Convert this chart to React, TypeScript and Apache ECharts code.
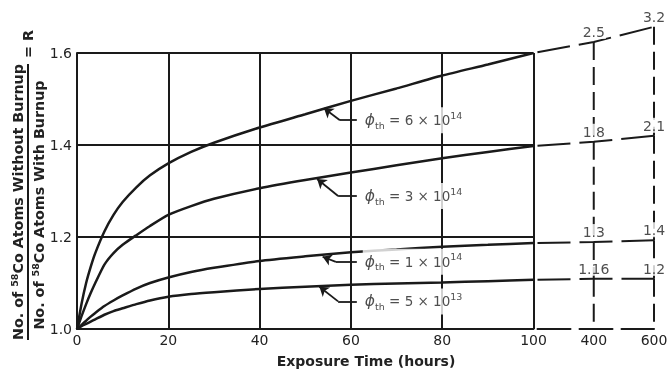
import React, { useEffect, useRef } from 'react';
import * as echarts from 'echarts';

// ---- data ----
const hours = [0, 1, 2, 3, 4, 6, 8, 10, 13, 16, 20, 25, 30, 40, 50, 60, 70, 80, 90, 100];
const r6e14 = [1.0, 1.055, 1.1, 1.135, 1.165, 1.212, 1.248, 1.276, 1.308, 1.334, 1.36, 1.385, 1.405, 1.438, 1.467, 1.496, 1.523, 1.551, 1.575, 1.6];
const r3e14 = [1.0, 1.028, 1.054, 1.078, 1.1, 1.14, 1.165, 1.183, 1.204, 1.224, 1.248, 1.267, 1.283, 1.306, 1.324, 1.34, 1.356, 1.371, 1.385, 1.398];
const r1e14 = [1.0, 1.009, 1.018, 1.027, 1.035, 1.05, 1.062, 1.073, 1.088, 1.1, 1.112, 1.124, 1.133, 1.148, 1.158, 1.167, 1.173, 1.179, 1.183, 1.187];
const r5e13 = [1.0, 1.006, 1.011, 1.016, 1.021, 1.031, 1.039, 1.045, 1.054, 1.062, 1.07, 1.076, 1.08, 1.087, 1.092, 1.096, 1.099, 1.101, 1.104, 1.107];
const fluxCoef = ['6', '3', '1', '5'];
const fluxExp = ['14', '14', '14', '13'];
const extCategories = ['100', '400', '600'];
const rAt400 = ['2.5', '1.8', '1.3', '1.16'];
const rAt600 = ['3.2', '2.1', '1.4', '1.2'];
// schematic heights (plotted R units) at which the off-scale 400 h / 600 h values are drawn
const plotAt400 = [1.624, 1.407, 1.189, 1.109];
const plotAt600 = [1.657, 1.42, 1.193, 1.109];
// annotation anchors (data units: hours, R)
const annoY = [1.454, 1.289, 1.146, 1.06];
const annoLineEndX = [61.3, 61.3, 61.3, 61.3];
const annoElbowX = [57.6, 57.2, 56.7, 57.2];
const annoTipX = [54.1, 52.6, 53.8, 53.1];
const annoTipY = [1.48, 1.326, 1.157, 1.092];
const annoTextX = [62.6, 62.6, 62.6, 62.6];

const FONT = 'DejaVu Sans';
const INK = '#1a1a1a';
const TXT = '#222';

export default function App() {
  const ref = useRef<HTMLDivElement>(null);
  useEffect(() => {
    if (!ref.current) return;
    const chart = echarts.init(ref.current, undefined, { renderer: 'svg' });
    const curves = [r6e14, r3e14, r1e14, r5e13];

    const curveSeries = curves.map((arr) => ({
      type: 'line',
      xAxisIndex: 0,
      yAxisIndex: 0,
      data: hours.map((h, j) => [h, arr[j]]),
      symbol: 'none',
      showSymbol: false,
      smooth: 0.2,
      lineStyle: { color: INK, width: 2.5 },
      z: 3,
      silent: true,
    }));

    const extSeries = curves.map((arr, i) => ({
      type: 'line',
      xAxisIndex: 1,
      yAxisIndex: 1,
      data: [
        [0, arr[arr.length - 1]],
        [1, plotAt400[i]],
        [2, plotAt600[i]],
      ],
      symbol: 'none',
      clip: false,
      lineStyle: { color: INK, width: 2, type: [33, 9], dashOffset: 38 },
      z: 3,
      silent: true,
    }));

    const vertSeries: any[] = [];
    [1, 2].forEach((ci) => {
      const lv = (ci === 1 ? plotAt400 : plotAt600).concat([1.0]);
      for (let k = 0; k < lv.length - 1; k++) {
        vertSeries.push({
          type: 'line',
          xAxisIndex: 1,
          yAxisIndex: 1,
          data: [
            [ci, lv[k]],
            [ci, lv[k + 1]],
          ],
          symbol: 'none',
          clip: false,
          lineStyle: { color: INK, width: 2, type: [18, 7] },
          z: 3,
          silent: true,
        });
      }
    });

    const rightLabels = {
      type: 'scatter',
      xAxisIndex: 1,
      yAxisIndex: 1,
      symbolSize: 0,
      clip: false,
      silent: true,
      z: 8,
      data: plotAt400
        .map((y, i) => ({ value: [1, y], name: rAt400[i] }))
        .concat(plotAt600.map((y, i) => ({ value: [2, y], name: rAt600[i] }))),
      label: {
        show: true,
        position: 'top',
        distance: 3,
        formatter: (p: any) => p.name,
        fontFamily: FONT,
        fontSize: 14,
        color: TXT,
        backgroundColor: '#fff',
        padding: [1, 1, 0, 1],
      },
    };

    const annoFlat = {
      type: 'lines',
      coordinateSystem: 'cartesian2d',
      xAxisIndex: 0,
      yAxisIndex: 0,
      symbol: 'none',
      lineStyle: { color: INK, width: 1.8, opacity: 1 },
      z: 6,
      silent: true,
      data: annoY.map((y, i) => ({ coords: [[annoLineEndX[i], y], [annoElbowX[i], y]] })),
    };
    const annoArrow = {
      type: 'lines',
      coordinateSystem: 'cartesian2d',
      xAxisIndex: 0,
      yAxisIndex: 0,
      symbol: ['none', 'arrow'],
      symbolSize: 9,
      lineStyle: { color: INK, width: 1.8, opacity: 1 },
      itemStyle: { color: INK },
      z: 6,
      silent: true,
      data: annoY.map((y, i) => ({ coords: [[annoElbowX[i], y], [annoTipX[i], annoTipY[i]]] })),
    };
    const annoText = {
      type: 'scatter',
      xAxisIndex: 0,
      yAxisIndex: 0,
      symbolSize: 0,
      clip: false,
      silent: true,
      z: 7,
      data: annoY.map((y, i) => ({
        value: [annoTextX[i], y],
        label: {
          formatter: `{phi|ϕ}{sub|th}{t| = ${fluxCoef[i]} × 10}{sup|${fluxExp[i]}}`,
        },
      })),
      label: {
        show: true,
        position: 'right',
        distance: 0,
        backgroundColor: '#fff',
        padding: [3, 2, 3, 2],
        rich: {
          phi: { fontFamily: FONT, fontSize: 15.5, fontStyle: 'italic', color: TXT, lineHeight: 20 },
          sub: { fontFamily: FONT, fontSize: 9.5, color: TXT, verticalAlign: 'bottom', lineHeight: 11 },
          t: { fontFamily: FONT, fontSize: 13.5, color: TXT, lineHeight: 20 },
          sup: { fontFamily: FONT, fontSize: 9.5, color: TXT, verticalAlign: 'top', lineHeight: 11 },
        },
      },
    };

    const titleRich = {
      b: { fontFamily: FONT, fontWeight: 'bold', fontSize: 14.3, fill: TXT, lineHeight: 18 },
      s: { fontFamily: FONT, fontWeight: 'bold', fontSize: 9.5, fill: TXT, verticalAlign: 'top', lineHeight: 11 },
    };

    const option: any = {
      animation: false,
      textStyle: { fontFamily: FONT },
      grid: [
        { left: 77, top: 53, width: 456.5, height: 276, outerBoundsMode: 'none', containLabel: false },
        { left: 533.5, top: 53, width: 120.5, height: 276, outerBoundsMode: 'none', containLabel: false },
      ],
      xAxis: [
        {
          type: 'value',
          gridIndex: 0,
          min: 0,
          max: 100,
          interval: 20,
          axisLine: { show: true, onZero: false, lineStyle: { color: INK, width: 2 } },
          axisTick: { show: false },
          axisLabel: { color: TXT, fontSize: 14, margin: 4, fontFamily: FONT, showMaxLabel: true, showMinLabel: true },
          splitLine: { show: true, lineStyle: { color: INK, width: 2 } },
        },
        {
          type: 'category',
          gridIndex: 1,
          data: extCategories,
          boundaryGap: false,
          axisLine: {
            show: true,
            onZero: false,
            lineStyle: { color: INK, width: 2, type: [33, 9], dashOffset: 38 },
          },
          axisTick: { show: false },
          axisLabel: {
            interval: 0,
            color: TXT,
            fontSize: 14,
            margin: 4,
            fontFamily: FONT,
            formatter: (v: string) => (v === extCategories[0] ? '' : v),
          },
          splitLine: { show: false },
        },
      ],
      yAxis: [
        {
          type: 'value',
          gridIndex: 0,
          min: 1.0,
          max: 1.6,
          interval: 0.2,
          axisLine: { show: true, onZero: false, lineStyle: { color: INK, width: 2 } },
          axisTick: { show: false },
          axisLabel: {
            color: TXT,
            fontSize: 14,
            margin: 5,
            fontFamily: FONT,
            formatter: (v: number) => v.toFixed(1),
          },
          splitLine: { show: true, lineStyle: { color: INK, width: 2 } },
        },
        { type: 'value', gridIndex: 1, min: 1.0, max: 1.6, show: false },
      ],
      graphic: [
        {
          type: 'text',
          x: 366,
          y: 361,
          z: 20,
          style: {
            text: 'Exposure Time (hours)',
            fontFamily: FONT,
            fontWeight: 'bold',
            fontSize: 14,
            fill: TXT,
            align: 'center',
            verticalAlign: 'middle',
          },
        },
        {
          type: 'group',
          x: 28,
          y: 202,
          rotation: Math.PI / 2,
          z: 20,
          children: [
            {
              type: 'text',
              x: 0,
              y: -1,
              style: {
                text: '{b|No. of }{s|58}{b|Co Atoms Without Burnup}',
                rich: titleRich,
                align: 'center',
                verticalAlign: 'bottom',
              },
            },
            {
              type: 'line',
              shape: { x1: -138, y1: 0, x2: 138, y2: 0 },
              style: { stroke: INK, lineWidth: 2 },
            },
            {
              type: 'text',
              x: -3,
              y: 2,
              style: {
                text: '{b|No. of }{s|58}{b|Co Atoms With Burnup}',
                rich: titleRich,
                align: 'center',
                verticalAlign: 'top',
              },
            },
            {
              type: 'text',
              x: 158,
              y: 0,
              style: {
                text: '= R',
                fontFamily: FONT,
                fontWeight: 'bold',
                fontSize: 14.3,
                fill: TXT,
                align: 'center',
                verticalAlign: 'middle',
              },
            },
          ],
        },
      ],
      series: [...curveSeries, ...extSeries, ...vertSeries, rightLabels, annoFlat, annoArrow, annoText],
    };
    chart.setOption(option);
    return () => chart.dispose();
  }, []);
  return <div ref={ref} style={{ position: 'fixed', left: 0, top: 0, width: 668, height: 371 }} />;
}
